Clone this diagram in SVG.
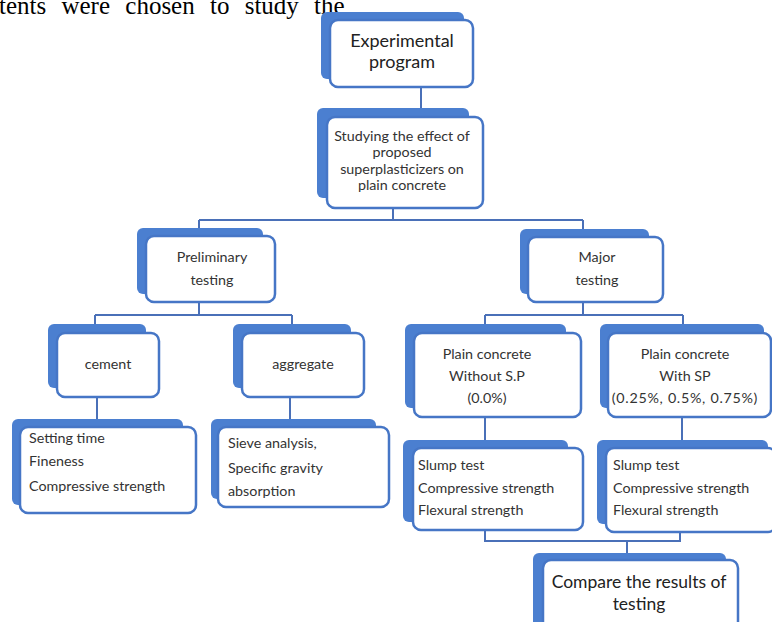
<svg xmlns="http://www.w3.org/2000/svg" width="772" height="622" viewBox="0 0 772 622">
<style>
.bk{fill:#4b7fd0}
.fr{fill:#ffffff;stroke:#4676c6;stroke-width:2.5}
.t{font-family:Lato,"Open Sans",sans-serif;font-size:14.3px;fill:#333333}
.c{text-anchor:middle}
.big{font-size:18px;fill:#222222}
.cmp{font-size:17.5px;fill:#222222}
.ln{fill:none;stroke:#4a70b8;stroke-width:2}
</style>
<rect width="772" height="622" fill="#ffffff"/>
<text x="-1" y="14" font-family="Liberation Serif,serif" font-size="25" word-spacing="9" fill="#000000">tents were chosen to study the</text>
<g id="connectors">
<path class="ln" d="M421,87V108"/>
<path class="ln" d="M393,208V220M199,220H583M199,220V229M583,220V229"/>
<path class="ln" d="M199,302V315M95,315H292M95,315V324M292,315V324"/>
<path class="ln" d="M583,302V315M485,315H683M485,315V324M683,315V324"/>
<path class="ln" d="M97,397V419M290,397V419M485,417V440M682,417V440"/>
<path class="ln" d="M485,530V541H680V532M627,541V553"/>
</g>
<g id="exp">
<rect class="bk" x="321" y="12" width="143" height="67" rx="6"/>
<rect class="fr" x="330" y="20" width="143" height="67" rx="8"/>
<text class="t c big" x="402" y="47">Experimental</text>
<text class="t c big" x="402" y="68">program</text>
</g>
<g id="study">
<rect class="bk" x="317" y="108" width="152" height="90" rx="6"/>
<rect class="fr" x="327" y="117" width="156" height="91" rx="8"/>
<text class="t c" x="402" y="141" font-size="13.6">Studying the effect of</text>
<text class="t c" x="402" y="157" font-size="13.6">proposed</text>
<text class="t c" x="402" y="174" font-size="13.6">superplasticizers  on</text>
<text class="t c" x="402" y="190" font-size="13.6">plain concrete</text>
</g>
<g id="prelim">
<rect class="bk" x="137" y="228" width="126" height="66" rx="6"/>
<rect class="fr" x="146" y="236" width="129" height="66" rx="8"/>
<text class="t c" x="212" y="262">Preliminary</text>
<text class="t c" x="212" y="285">testing</text>
</g>
<g id="major">
<rect class="bk" x="520" y="229" width="129" height="65" rx="6"/>
<rect class="fr" x="528" y="237" width="135" height="65" rx="8"/>
<text class="t c" x="597" y="262">Major</text>
<text class="t c" x="597" y="285">testing</text>
</g>
<g id="cement">
<rect class="bk" x="48" y="324" width="98" height="64" rx="6"/>
<rect class="fr" x="57" y="333" width="102" height="64" rx="8"/>
<text class="t c" x="108" y="369">cement</text>
</g>
<g id="aggregate">
<rect class="bk" x="233" y="324" width="118" height="64" rx="6"/>
<rect class="fr" x="242" y="333" width="122" height="64" rx="8"/>
<text class="t c" x="303" y="369">aggregate</text>
</g>
<g id="pc0">
<rect class="bk" x="405" y="324" width="161" height="84" rx="6"/>
<rect class="fr" x="414" y="333" width="167" height="84" rx="8"/>
<text class="t c" x="487" y="359">Plain concrete</text>
<text class="t c" x="487" y="381">Without S.P</text>
<text class="t c" x="487" y="403">(0.0%)</text>
</g>
<g id="pcsp">
<rect class="bk" x="600" y="324" width="164" height="84" rx="6"/>
<rect class="fr" x="608" y="333" width="163" height="84" rx="8"/>
<text class="t c" x="685" y="359">Plain concrete</text>
<text class="t c" x="685" y="381">With SP</text>
<text class="t c" x="685" y="403" letter-spacing="0.7">(0.25%, 0.5%, 0.75%)</text>
</g>
<g id="cementTests">
<rect class="bk" x="12" y="419" width="171" height="86" rx="6"/>
<rect class="fr" x="20" y="427" width="176" height="86" rx="8"/>
<text class="t" x="29" y="443">Setting time</text>
<text class="t" x="29" y="466">Fineness</text>
<text class="t" x="29" y="491">Compressive strength</text>
</g>
<g id="aggTests">
<rect class="bk" x="211" y="419" width="165" height="80" rx="6"/>
<rect class="fr" x="218" y="427" width="171" height="80" rx="8"/>
<text class="t" x="228" y="448">Sieve analysis,</text>
<text class="t" x="228" y="473">Specific gravity</text>
<text class="t" x="228" y="496">absorption</text>
</g>
<g id="tests0">
<rect class="bk" x="403" y="440" width="165" height="82" rx="6"/>
<rect class="fr" x="413" y="448" width="170" height="82" rx="8"/>
<text class="t" x="418" y="470">Slump test</text>
<text class="t" x="418" y="493">Compressive strength</text>
<text class="t" x="418" y="515">Flexural strength</text>
</g>
<g id="testsSP">
<rect class="bk" x="597" y="440" width="171" height="84" rx="6"/>
<rect class="fr" x="606" y="448" width="170" height="84" rx="8"/>
<text class="t" x="613" y="470">Slump test</text>
<text class="t" x="613" y="493">Compressive strength</text>
<text class="t" x="613" y="515">Flexural strength</text>
</g>
<g id="compare">
<rect class="bk" x="533" y="553" width="193" height="80" rx="6"/>
<rect class="fr" x="543" y="560" width="195" height="80" rx="8"/>
<text class="t c cmp" x="639" y="588">Compare the results of</text>
<text class="t c cmp" x="639" y="610">testing</text>
</g>
</svg>
